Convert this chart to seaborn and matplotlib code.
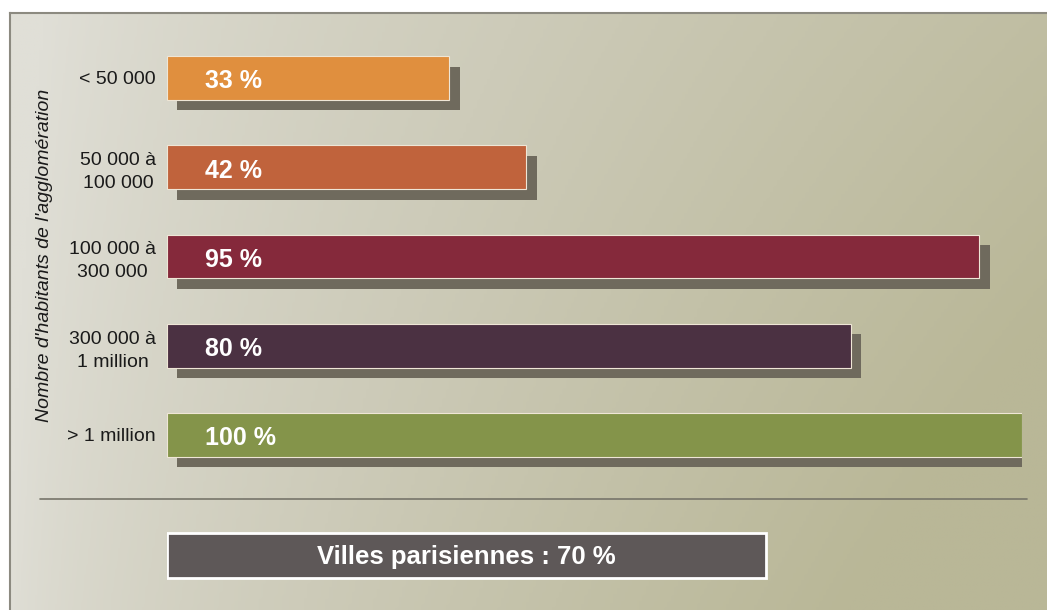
import numpy as np
import pandas as pd
import matplotlib.pyplot as plt
import matplotlib.patheffects as pe
from matplotlib.colors import LinearSegmentedColormap
from matplotlib.lines import Line2D
import seaborn as sns

# === DONNEES ===
categories = ["< 50 000", "50 000 à\n100 000", "100 000 à\n300 000", "300 000 à\n1 million", "> 1 million"]
valeurs = [33, 42, 95, 80, 100]
couleurs = ["#e08f3e", "#c0633c", "#85293b", "#4b3142", "#84944a"]
paris_label = "Villes parisiennes"
paris_valeur = 70
titre_y = "Nombre d'habitants de l'agglomération"

df = pd.DataFrame({"cat": categories, "val": valeurs})

sns.set_theme(style="white")
plt.rcParams["font.family"] = ["Liberation Sans Narrow", "Liberation Sans", "DejaVu Sans"]

W, H = 1047, 610
fig = plt.figure(figsize=(W / 100, H / 100), dpi=100)

# === FOND DEGRADE ===
bg = fig.add_axes([10 / W, 0, 1 - 10 / W, 1 - 13 / H])
xx, yy = np.meshgrid(np.linspace(0, 1, 300), np.linspace(0, 1, 200))
grad = np.clip(0.95 * xx ** 0.6 + 0.2 * yy * xx - 0.12 * (1 - yy), 0, 1)
cmap_bg = LinearSegmentedColormap.from_list("bg", ["#e0dfd7", "#cdcbb9", "#b9b797"])
bg.imshow(grad, cmap=cmap_bg, aspect="auto", extent=[0, 1, 0, 1], origin="upper")
bg.set_xlim(0, 1)
bg.set_ylim(0, 1)
bg.set_xticks([])
bg.set_yticks([])
for side in ["right", "bottom"]:
    bg.spines[side].set_visible(False)
for side in ["top", "left"]:
    bg.spines[side].set_color("#8c8a80")
    bg.spines[side].set_linewidth(1.5)

# === BARRES ===
pas = 89.25
top_px, bot_px = 30, 600
ax = fig.add_axes([167 / W, 1 - bot_px / H, 855 / W, (bot_px - top_px) / H])
ax.patch.set_alpha(0)

sns.barplot(data=df, x="val", y="cat", orient="h", palette=couleurs, hue="cat",
            legend=False, width=0.49, saturation=1, ax=ax, edgecolor="#efe6d6", linewidth=0.8)

ombre = [pe.SimplePatchShadow(offset=(7.5, -7.5), shadow_rgbFace="#6f6a5d", alpha=1.0), pe.Normal()]
for p in ax.patches:
    p.set_path_effects(ombre)

for i, v in enumerate(valeurs):
    ax.text(4.4, i + 0.01, f"{v} %", color="white", fontsize=18, fontweight="bold",
            family=["Liberation Sans", "DejaVu Sans"], va="center_baseline", ha="left")

# boite villes parisiennes
y_paris = 4 + (555.5 - 435) / pas
ax.barh(y_paris, paris_valeur, height=0.5, color="#5e5858", edgecolor="white", linewidth=2)
ax.text(paris_valeur / 2, y_paris - 0.01, f"{paris_label} : {paris_valeur} %", color="white",
        fontsize=18.5, fontweight="bold", ha="center", va="center_baseline")

ax.set_xlim(0, 100)
ax.set_ylim(4 + (bot_px - 435) / pas, -(78 - top_px) / pas)
ax.set_xlabel("")
ax.set_ylabel("")
ax.set_xticks([])
ax.set_yticks(range(len(categories)))
ax.set_yticklabels(categories, fontsize=14, color="#1a1a1a", linespacing=1.45,
                   multialignment="center")
ax.tick_params(axis="y", length=0, pad=8)
sns.despine(ax=ax, left=True, bottom=True)

# ligne de separation
fig.add_artist(Line2D([40 / W, 1027 / W], [1 - 499 / H, 1 - 499 / H], color="#77756a", linewidth=1.2))

# titre axe y
fig.text(45 / W, 1 - 255 / H, titre_y, rotation=90, fontsize=14, style="italic",
         color="#1a1a1a", ha="center", va="center")

fig.savefig("out.png", dpi=100)
